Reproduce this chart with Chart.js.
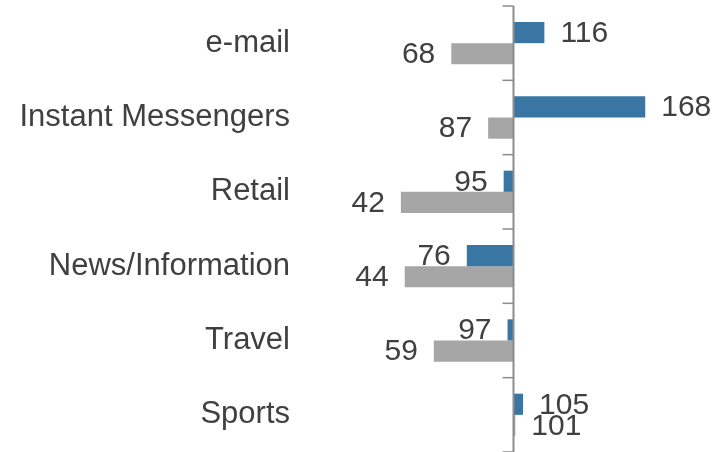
<!DOCTYPE html>
<html>
<head>
<meta charset="utf-8">
<script src="https://cdn.jsdelivr.net/npm/chart.js@4/dist/chart.umd.min.js"></script>
<style>
  html, body { margin: 0; padding: 0; background: #ffffff; }
  #wrap { width: 717px; height: 452px; }
</style>
</head>
<body>
<div id="wrap"><canvas id="c" width="717" height="452"></canvas></div>
<script>
const categories = ["e-mail", "Instant Messengers", "Retail", "News/Information", "Travel", "Sports"];
const seriesBlue = [116, 168, 95, 76, 97, 105];
const seriesGray = [68, 87, 42, 44, 59, 101];
const baseValue = 100;

const FONT = '"Liberation Sans", Arial, sans-serif';
const TEXT = '#404040';

const valueLabels = {
  id: 'valueLabels',
  afterDatasetsDraw(chart) {
    const ctx = chart.ctx;
    ctx.save();
    ctx.font = '30px ' + FONT;
    ctx.fillStyle = TEXT;
    ctx.textBaseline = 'middle';
    chart.data.datasets.forEach((ds, di) => {
      const meta = chart.getDatasetMeta(di);
      meta.data.forEach((el, i) => {
        const v = ds.data[i];
        if (v >= baseValue) {
          ctx.textAlign = 'left';
          ctx.fillText(String(v), el.x + 16, el.y + 1);
        } else {
          ctx.textAlign = 'right';
          ctx.fillText(String(v), el.x - 16, el.y + 1);
        }
      });
    });
    ctx.restore();
  }
};

const baseAxis = {
  id: 'baseAxis',
  afterDatasetsDraw(chart) {
    const ctx = chart.ctx;
    const xs = chart.scales.x;
    const x0 = Math.round(xs.getPixelForValue(baseValue)) + 0.5;
    const top = chart.chartArea.top, bottom = chart.chartArea.bottom;
    ctx.save();
    ctx.strokeStyle = '#8c8c8c';
    ctx.lineWidth = 2;
    ctx.beginPath();
    ctx.moveTo(x0, top);
    ctx.lineTo(x0, bottom);
    ctx.stroke();
    const n = categories.length;
    const step = (bottom - top) / n;
    ctx.lineWidth = 1.5;
    for (let i = 0; i <= n; i++) {
      const y = top + step * i;
      ctx.beginPath();
      ctx.moveTo(x0 - 11, y);
      ctx.lineTo(x0, y);
      ctx.stroke();
    }
    ctx.restore();
  }
};

new Chart(document.getElementById('c'), {
  type: 'bar',
  data: {
    labels: categories,
    datasets: [
      { data: seriesBlue, base: baseValue, backgroundColor: '#3a76a4', borderWidth: 0 },
      { data: seriesGray, base: baseValue, backgroundColor: '#a6a6a6', borderWidth: 0 }
    ]
  },
  options: {
    indexAxis: 'y',
    responsive: false,
    animation: false,
    events: [],
    categoryPercentage: 0.57,
    barPercentage: 1.0,
    layout: { padding: { top: 6, bottom: 0, left: 0, right: 0 } },
    plugins: { legend: { display: false }, tooltip: { enabled: false } },
    scales: {
      x: {
        display: false,
        min: -10,
        max: 205
      },
      y: {
        grid: { display: false, drawTicks: false },
        border: { display: false },
        ticks: {
          padding: 10,
          color: TEXT,
          font: { family: FONT, size: 31 }
        },
        afterFit(scale) {
          scale.width = 300;
          scale.paddingTop = 0;
          scale.paddingBottom = 0;
        }
      }
    }
  },
  plugins: [valueLabels, baseAxis]
});
</script>
</body>
</html>
